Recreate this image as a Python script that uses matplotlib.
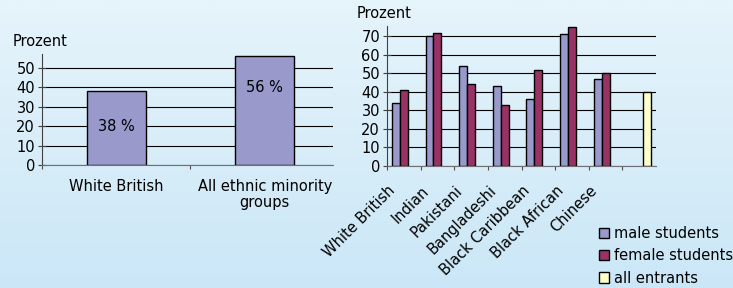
"""Entrants to higher education by ethnic group: two bar panels."""

import numpy as np
import matplotlib

matplotlib.use("Agg")
import matplotlib.pyplot as plt
import matplotlib.transforms as mtransforms
from matplotlib.patches import Patch

# left panel
groups = ["White British", "All ethnic minority\ngroups"]
share = [38, 56]
share_labels = ["38 %", "56 %"]
share_label_y = [20, 40]

# right panel
ethnic = ["White British", "Indian", "Pakistani", "Bangladeshi",
          "Black Caribbean", "Black African", "Chinese", ""]
male = [34, 70, 54, 43, 36, 71, 47]
female = [41, 72, 44, 33, 52, 75, 50]
all_entrants = 40
series_names = ["male students", "female students", "all entrants"]

C_MALE = "#9999cc"
C_FEMALE = "#993366"
C_ALL = "#ffffcc"
FS = 10.5

plt.rcParams["font.family"] = "DejaVu Sans"
plt.rcParams["font.size"] = FS

W, H = 733, 288
fig = plt.figure(figsize=(W / 100, H / 100), dpi=100)

# background gradient
bg = fig.add_axes([0, 0, 1, 1], zorder=-10)
top = np.array([230, 244, 251]) / 255
bot = np.array([203, 231, 247]) / 255
t = np.linspace(0, 1, 256)[:, None]
grad = top[None, :] * (1 - t) + bot[None, :] * t
bg.imshow(grad[:, None, :], aspect="auto", extent=[0, 1, 0, 1])
bg.axis("off")


def style(ax):
    ax.set_facecolor("none")
    for s in ("top", "right"):
        ax.spines[s].set_visible(False)
    ax.spines["left"].set_color("#404040")
    ax.spines["bottom"].set_color("#707070")
    ax.grid(axis="y", color="black", linewidth=0.8)
    ax.set_axisbelow(True)
    ax.tick_params(axis="y", direction="inout", length=6, width=0.8,
                   color="#404040", pad=2, labelsize=FS)
    ax.tick_params(axis="x", which="major", length=0, labelsize=FS)
    ax.tick_params(axis="x", which="minor", direction="out", length=3,
                   width=0.8, color="#505050")


# ---- left panel
ax1 = fig.add_axes([42 / W, 1 - 165 / H, 291 / W, 110.6 / H])
x1 = np.arange(len(groups))
ax1.bar(x1, share, width=0.4, color=C_MALE, edgecolor="black", linewidth=1)
for xi, lab, yl in zip(x1, share_labels, share_label_y):
    ax1.text(xi, yl, lab, ha="center", va="center", fontsize=FS)
ax1.set_xlim(-0.5, 1.46)
ax1.set_ylim(0, 57)
ax1.set_yticks(range(0, 51, 10))
ax1.set_xticks(x1)
ax1.set_xticklabels(groups, linespacing=1.1)
ax1.set_xticks([-0.5, 0.5], minor=True)
style(ax1)
ax1.tick_params(axis="x", which="major", pad=10)
fig.text(13 / W, 1 - 42 / H, "Prozent", ha="left", va="center", fontsize=FS)

# ---- right panel
ax2 = fig.add_axes([387 / W, 1 - 166 / H, 269 / W, 139.9 / H])
x2 = np.arange(len(ethnic))
w = 0.235
ax2.bar(x2[:len(male)] - w, male, width=w, color=C_MALE, edgecolor="black",
        linewidth=1)
ax2.bar(x2[:len(female)], female, width=w, color=C_FEMALE, edgecolor="black",
        linewidth=1)
ax2.bar(x2[-1] + w, all_entrants, width=w, color=C_ALL, edgecolor="black",
        linewidth=1)
ax2.set_xlim(-0.5, len(ethnic) - 0.5)
ax2.set_ylim(0, 75.5)
ax2.set_yticks(range(0, 71, 10))
ax2.set_xticks(x2)
ax2.set_xticklabels(ethnic, rotation=45, ha="right", va="top",
                    rotation_mode="anchor")
ax2.set_xticks(np.arange(-0.5, len(ethnic) - 0.5, 1.0), minor=True)
style(ax2)
ax2.tick_params(axis="x", which="major", pad=8)
shift = mtransforms.ScaledTranslation(-16 / 100, -6 / 100, fig.dpi_scale_trans)
for lab in ax2.get_xticklabels():
    lab.set_transform(lab.get_transform() + shift)
fig.text(357 / W, 1 - 13 / H, "Prozent", ha="left", va="center", fontsize=FS)

handles = [Patch(facecolor=c, edgecolor="black", linewidth=1)
           for c in (C_MALE, C_FEMALE, C_ALL)]
fig.legend(handles, series_names, loc="upper left",
           bbox_to_anchor=(599 / W, 1 - 226 / H), frameon=False,
           borderpad=0, borderaxespad=0, handlelength=0.7, handleheight=0.7,
           handletextpad=0.3, labelspacing=0.5, fontsize=FS)

fig.savefig("out.png", dpi=100)
